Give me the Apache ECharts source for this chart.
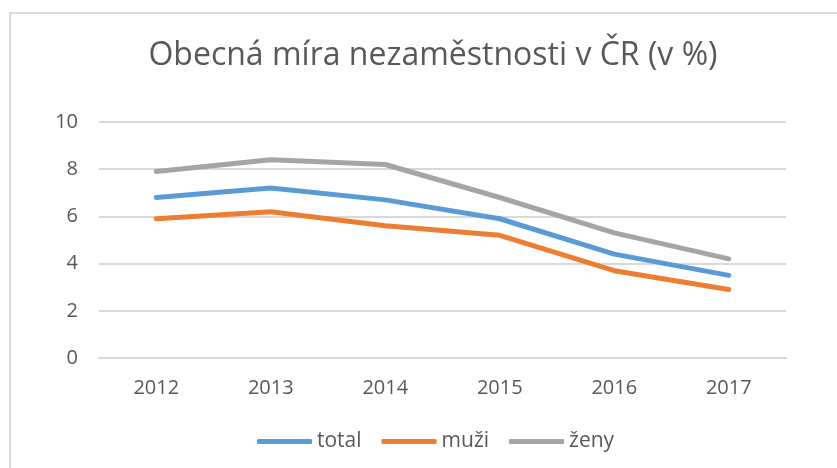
<!DOCTYPE html>
<html>
<head>
<meta charset="utf-8">
<script src="https://cdn.jsdelivr.net/npm/echarts@6/dist/echarts.min.js"></script>
<style>html,body{margin:0;padding:0;background:#fff;}#c{width:837px;height:468px;}</style>
</head>
<body>
<div id="c"></div>
<script>
var titleText = 'Obecná míra nezaměstnosti v ČR (v %)';
var years = ['2012', '2013', '2014', '2015', '2016', '2017'];
var total = [6.8, 7.2, 6.7, 5.9, 4.4, 3.5];
var muzi = [5.9, 6.2, 5.6, 5.2, 3.7, 2.9];
var zeny = [7.9, 8.4, 8.2, 6.8, 5.3, 4.2];
var seriesNames = ['total', 'muži', 'ženy'];
var colors = ['#5B9BD5', '#ED7D31', '#A5A5A5'];

var FONT = 'Open Sans';
var chart = echarts.init(document.getElementById('c'), null, {renderer: 'canvas'});
function mk(name, data, color) {
  return {
    name: name, type: 'line', data: data, symbol: 'none', smooth: false,
    lineStyle: {color: color, width: 5, cap: 'round', join: 'round'},
    itemStyle: {color: color}
  };
}
chart.setOption({
  animation: false,
  backgroundColor: '#fff',
  graphic: [{
    type: 'rect', silent: true,
    shape: {x: 10, y: 13, width: 900, height: 500},
    style: {fill: 'none', stroke: '#D9D9D9', lineWidth: 2}
  }],
  title: {
    text: titleText, left: 428, top: 35, textAlign: 'center',
    textStyle: {fontFamily: FONT, fontWeight: 'normal', fontSize: 32, color: '#595959'}
  },
  legend: {
    top: 426, left: 252,
    icon: 'roundRect', itemWidth: 55, itemHeight: 5, itemGap: 20,
    textStyle: {fontFamily: FONT, fontSize: 21, color: '#595959'},
    data: seriesNames
  },
  grid: {left: 99, right: 51, top: 122, bottom: 110, containLabel: false},
  xAxis: {
    type: 'category', data: years, boundaryGap: true,
    axisLine: {show: true, lineStyle: {color: '#D9D9D9', width: 2}},
    axisTick: {show: false},
    axisLabel: {fontFamily: FONT, fontSize: 20, color: '#595959', margin: 20}
  },
  yAxis: {
    type: 'value', min: 0, max: 10, interval: 2,
    axisLine: {show: false}, axisTick: {show: false},
    splitLine: {lineStyle: {color: '#D9D9D9', width: 2}},
    axisLabel: {fontFamily: FONT, fontSize: 20, color: '#595959', margin: 21}
  },
  series: [mk(seriesNames[0], total, colors[0]), mk(seriesNames[1], muzi, colors[1]), mk(seriesNames[2], zeny, colors[2])]
});
</script>
</body>
</html>
